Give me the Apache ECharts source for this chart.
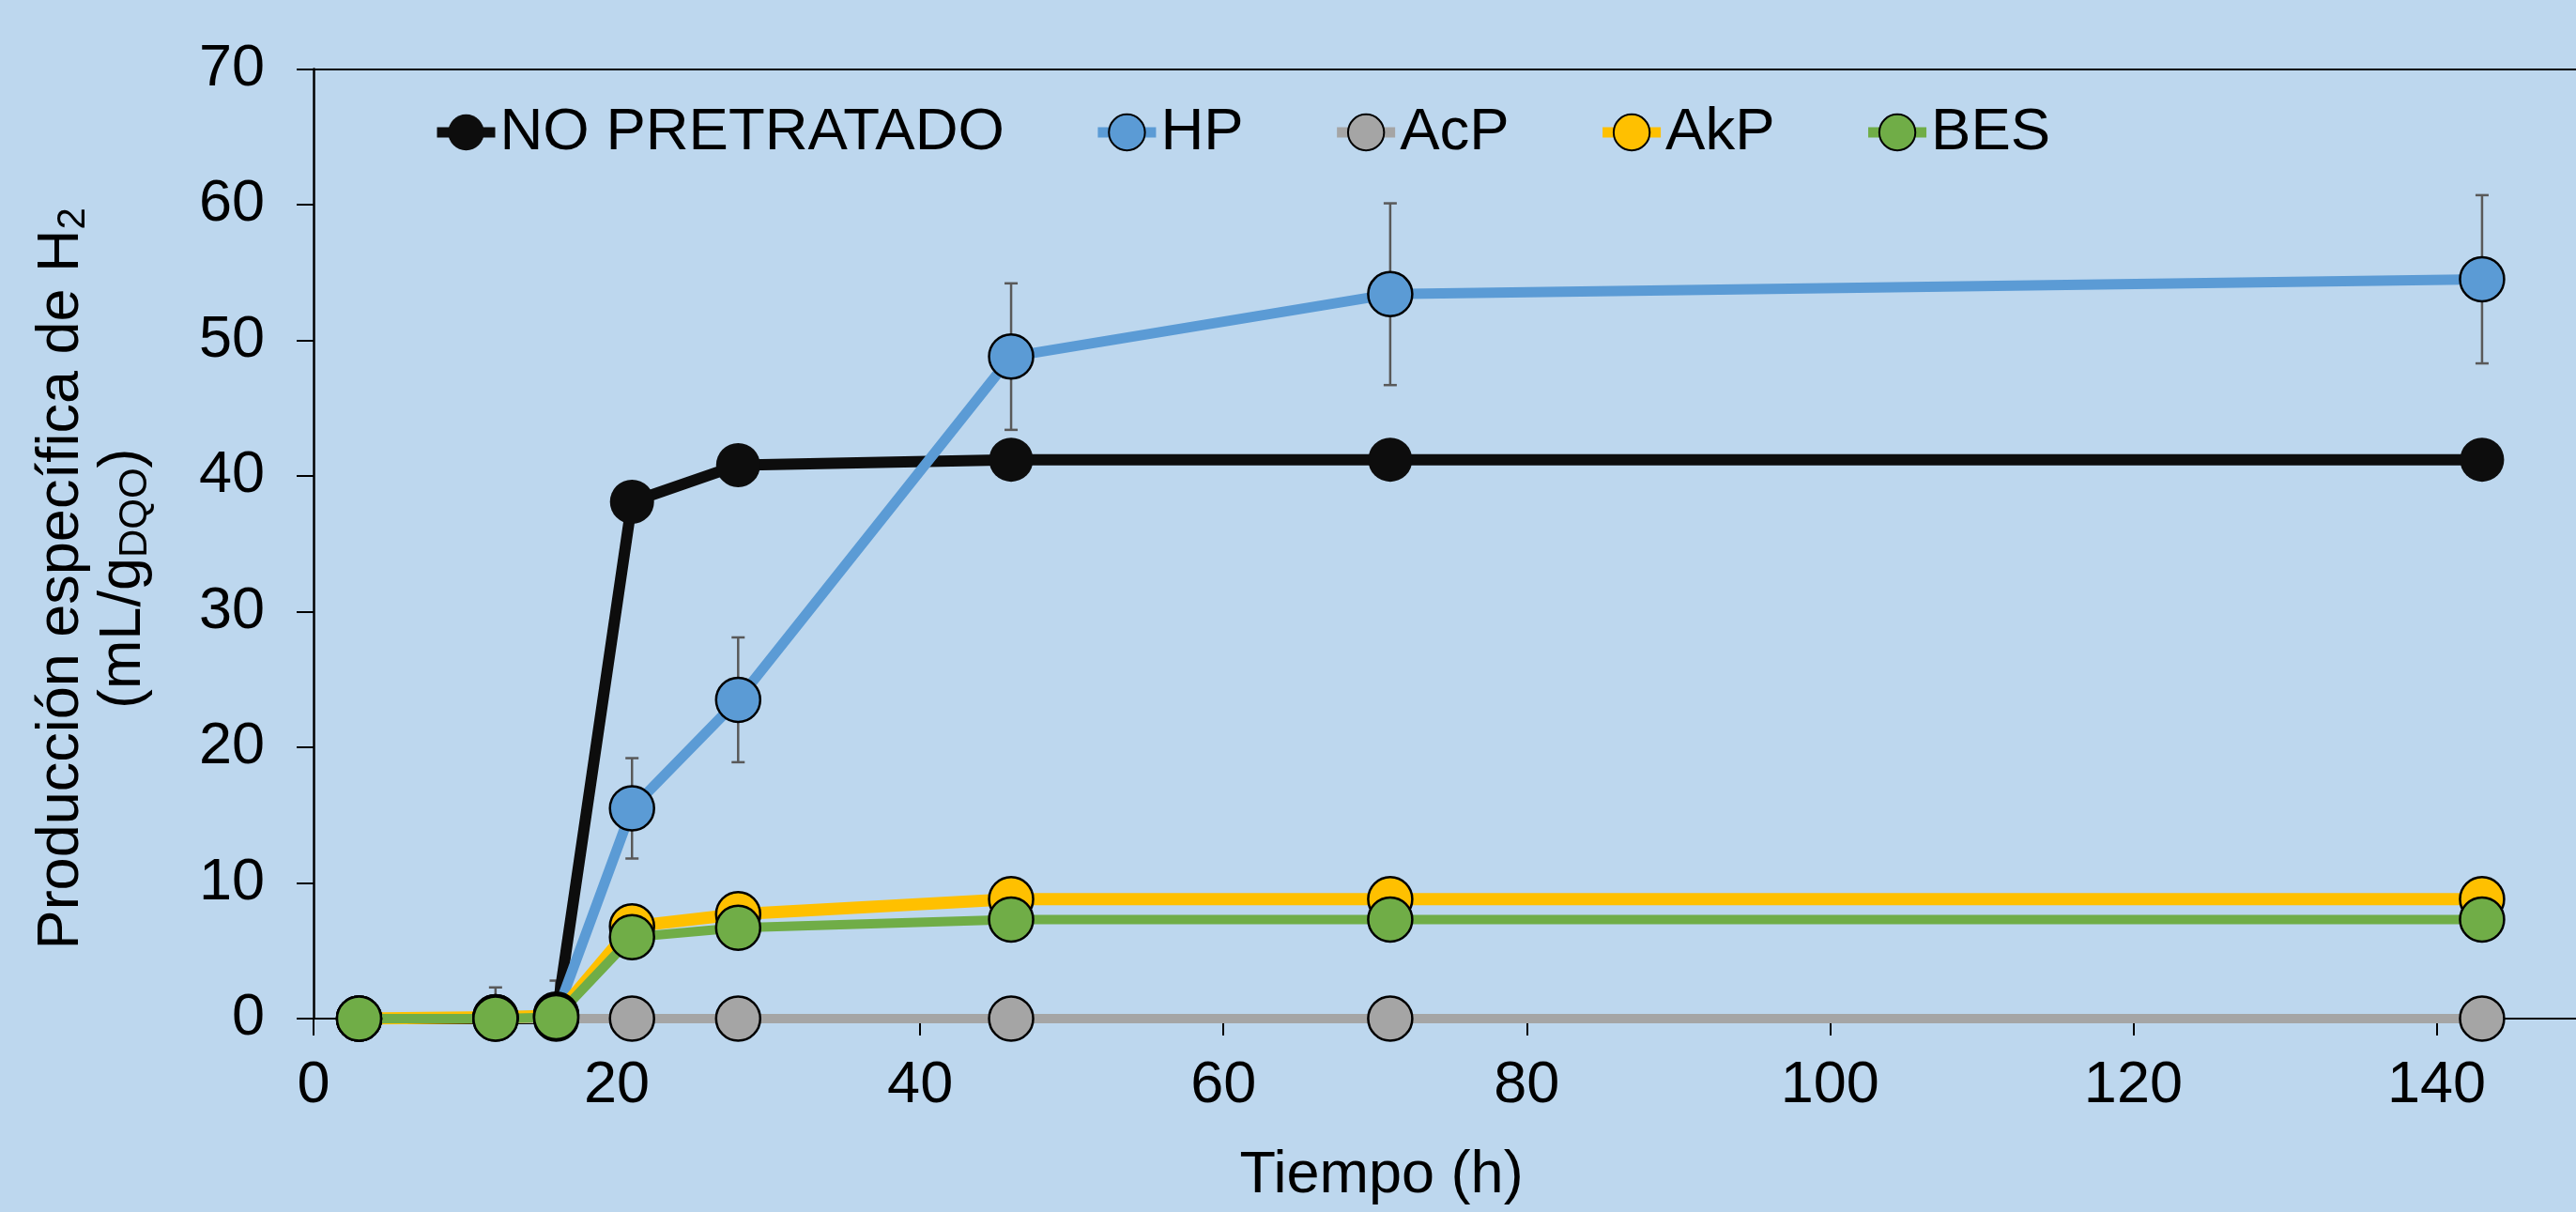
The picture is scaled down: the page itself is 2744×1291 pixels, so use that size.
<!DOCTYPE html>
<html>
<head>
<meta charset="utf-8">
<script src="https://cdn.jsdelivr.net/npm/echarts@6/dist/echarts.min.js"></script>
<style>
html,body{margin:0;padding:0;background:#BDD7EE;overflow:hidden;}
#c{width:2757px;height:1291px;}
</style>
</head>
<body>
<div id="c"></div>
<script>
const xHours = [3, 12, 16, 21, 28, 46, 71, 143];
const noPretratado = [0, 0, 0, 38.1, 40.8, 41.2, 41.2, 41.2];
const hp = [0, 0.1, 0.3, 15.5, 23.5, 48.8, 53.4, 54.5];
const hpErr = [0, 2.2, 2.5, 3.7, 4.6, 5.4, 6.7, 6.2];
const acp = [0, 0, 0, 0, 0, 0, 0, 0];
const akp = [0, 0.1, 0.2, 6.8, 7.7, 8.8, 8.8, 8.8];
const bes = [0, 0, 0.1, 6.0, 6.7, 7.3, 7.3, 7.3];
const seriesNames = ['NO PRETRATADO', 'HP', 'AcP', 'AkP', 'BES'];
const xTitle = 'Tiempo (h)';

const FONT = '"Liberation Sans", Arial, sans-serif';
const pair = arr => xHours.map((x, i) => [x, arr[i]]);

function lineSeries(name, data, color, width, border) {
  return {
    name: name, type: 'line', data: pair(data),
    symbol: 'circle', symbolSize: 47,
    lineStyle: { color: color, width: width },
    itemStyle: { color: color, borderColor: '#000', borderWidth: border },
    emphasis: { disabled: true }
  };
}

const chart = echarts.init(document.getElementById('c'));
chart.setOption({
  animation: false,
  backgroundColor: '#BDD7EE',
  textStyle: { fontFamily: FONT },
  grid: { left: 334, top: 73.5, right: 0, bottom: 206, containLabel: false },
  legend: {
    data: seriesNames,
    left: 460, top: 109, padding: 0,
    itemWidth: 62, itemHeight: 48, itemGap: 94,
    lineStyle: { width: 11 },
    textStyle: { fontSize: 63.5, color: '#000', fontFamily: FONT }
  },
  xAxis: [{
    type: 'value', min: 0, max: 150, interval: 20,
    name: xTitle, nameLocation: 'middle', nameGap: 136,
    nameTextStyle: { fontSize: 63, color: '#000', fontFamily: FONT, padding: [0, 148, 0, 0] },
    axisLine: { show: true, onZero: false, lineStyle: { color: '#000', width: 2 } },
    axisTick: { show: true, inside: false, length: 18, lineStyle: { color: '#000', width: 2 } },
    axisLabel: { fontSize: 63, color: '#000', margin: 40, showMaxLabel: false, fontFamily: FONT },
    splitLine: { show: false }
  }, {
    type: 'value', min: 0, max: 150, position: 'top',
    axisLine: { show: true, onZero: false, lineStyle: { color: '#000', width: 2 } },
    axisTick: { show: false }, axisLabel: { show: false }, splitLine: { show: false }
  }],
  yAxis: {
    type: 'value', min: 0, max: 70, interval: 10,
    name: '{t|Producción específica de H}{s|2}\n{t|(mL/g}{s|DQO}{t|)}',
    nameLocation: 'middle', nameGap: 169,
    nameTextStyle: {
      color: '#000', fontFamily: FONT, padding: [0, 74, 0, 0],
      rich: {
        t: { fontSize: 63, lineHeight: 66, fontFamily: FONT, color: '#000' },
        s: { fontSize: 42, lineHeight: 26, verticalAlign: 'bottom', fontFamily: FONT, color: '#000' }
      }
    },
    axisLine: { show: true, lineStyle: { color: '#000', width: 2.5 } },
    axisTick: { show: true, inside: false, length: 18, lineStyle: { color: '#000', width: 2 } },
    axisLabel: { fontSize: 63, color: '#000', margin: 52, fontFamily: FONT },
    splitLine: { show: false }
  },
  series: [
    lineSeries(seriesNames[0], noPretratado, '#0D0D0D', 12, 0),
    {
      name: 'errHP', type: 'custom', z: 2,
      data: xHours.map((x, i) => [x, Math.max(0, hp[i] - hpErr[i]), hp[i] + hpErr[i]]),
      encode: { x: 0, y: [1, 2] },
      renderItem: function (params, api) {
        const x = api.value(0);
        const pLo = api.coord([x, api.value(1)]);
        const pHi = api.coord([x, api.value(2)]);
        const cap = 7;
        const st = { stroke: '#595959', lineWidth: 2.5 };
        return {
          type: 'group', children: [
            { type: 'line', shape: { x1: pHi[0], y1: pHi[1], x2: pLo[0], y2: pLo[1] }, style: st },
            { type: 'line', shape: { x1: pHi[0] - cap, y1: pHi[1], x2: pHi[0] + cap, y2: pHi[1] }, style: st },
            { type: 'line', shape: { x1: pLo[0] - cap, y1: pLo[1], x2: pLo[0] + cap, y2: pLo[1] }, style: st }
          ]
        };
      },
      silent: true
    },
    lineSeries(seriesNames[1], hp, '#5B9BD5', 11, 2.5),
    lineSeries(seriesNames[2], acp, '#A5A5A5', 10, 2.5),
    lineSeries(seriesNames[3], akp, '#FFC000', 13, 2.5),
    lineSeries(seriesNames[4], bes, '#70AD47', 10, 2.5)
  ]
});
</script>
</body>
</html>
